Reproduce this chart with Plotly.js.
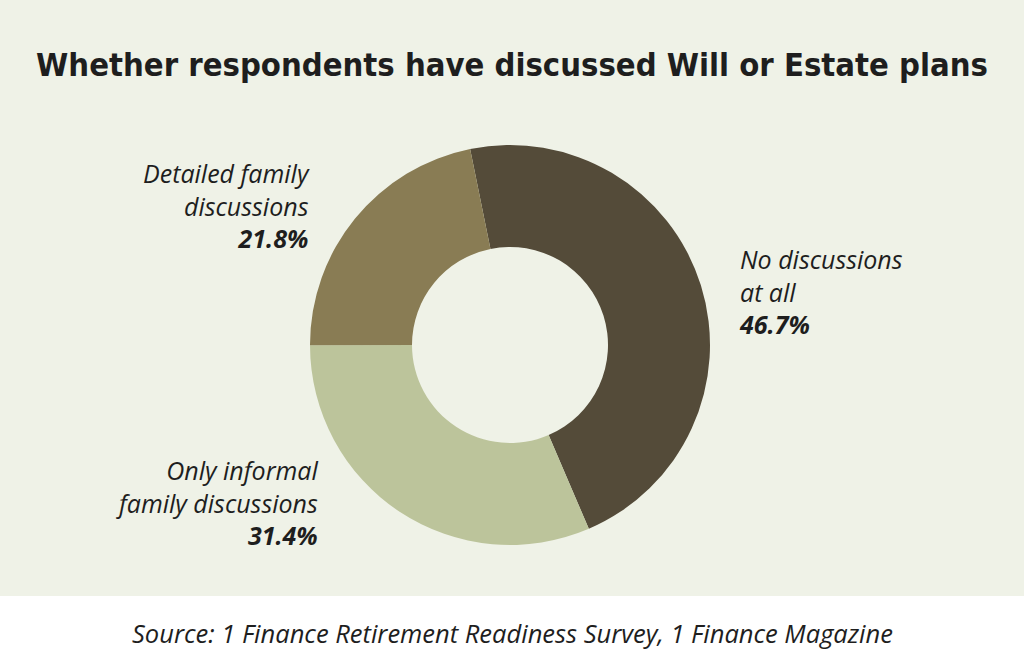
<!DOCTYPE html>
<html>
<head>
<meta charset="utf-8">
<script src="https://cdn.plot.ly/plotly-3.0.1.min.js"></script>
<style>html,body{margin:0;padding:0;background:#eff2e7;}#chart{width:1024px;height:666px;}</style>
</head>
<body>
<div id="chart"></div>
<script>
const categories = ["No discussions at all", "Only informal family discussions", "Detailed family discussions"];
const labelLines = ["No discussions<br>at all", "Only informal<br>family discussions", "Detailed family<br>discussions"];
const values = [46.7, 31.4, 21.8];
const colors = ["#544b39", "#bcc49b", "#897c54"];

// label placement (pixels) and alignment
const labelX = [737, 320, 312];
const labelY = [291, 502, 205];
const labelAlign = ["left", "right", "right"];

const W = 1024, H = 666;

const trace = {
  type: "pie",
  labels: categories,
  values: values,
  marker: {colors: colors, line: {width: 0}},
  hole: 0.49,
  sort: false,
  direction: "clockwise",
  rotation: -11.5,
  textinfo: "none",
  hoverinfo: "label+percent",
  showlegend: false,
  domain: {x: [310 / W, 710 / W], y: [(H - 545) / H, (H - 145) / H]}
};

const annotations = categories.map((c, i) => ({
  xref: "paper", yref: "paper",
  x: labelX[i] / W, y: 1 - labelY[i] / H,
  xanchor: labelAlign[i] === "left" ? "left" : "right",
  yanchor: "middle",
  align: labelAlign[i],
  showarrow: false,
  text: "<i>" + labelLines[i] + "</i><br><b><i>" + values[i].toFixed(1) + "%</i></b>",
  font: {family: "Open Sans, sans-serif", size: 25, color: "#1e1e1e"}
}));

annotations.push({
  xref: "paper", yref: "paper",
  x: 0.5, y: 1 - 633 / H,
  xanchor: "center", yanchor: "middle",
  showarrow: false,
  text: "<i>Source: 1 Finance Retirement Readiness Survey, 1 Finance Magazine</i>",
  font: {family: "Open Sans, sans-serif", size: 25.5, color: "#1e1e1e"}
});

const layout = {
  width: W, height: H,
  margin: {l: 0, r: 0, t: 0, b: 0},
  paper_bgcolor: "#eff2e7",
  plot_bgcolor: "#eff2e7",
  title: {
    text: "<b>Whether respondents have discussed Will or Estate plans</b>",
    x: 0.5, xanchor: "center",
    y: 1 - 65 / H, yref: "container", yanchor: "middle",
    font: {family: "DejaVu Sans Condensed, Liberation Sans Narrow, sans-serif", size: 32.5, color: "#1e1e1e"}
  },
  shapes: [{
    type: "rect", xref: "paper", yref: "paper",
    x0: 0, x1: 1, y0: 0, y1: 1 - 596 / H,
    fillcolor: "#ffffff", line: {width: 0}, layer: "below"
  }],
  annotations: annotations
};

Plotly.newPlot("chart", [trace], layout, {displayModeBar: false, staticPlot: true});
</script>
</body>
</html>
